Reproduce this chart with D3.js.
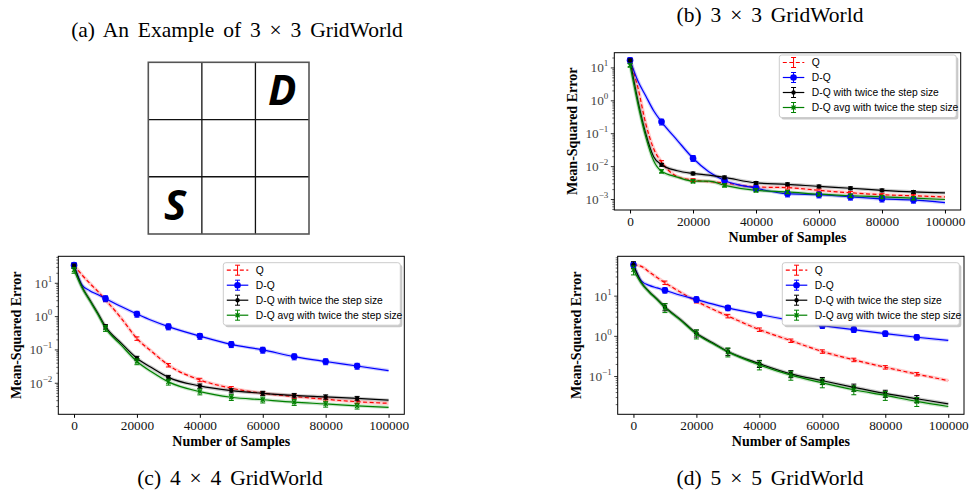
<!DOCTYPE html>
<meta charset="utf-8">
<head>
<script src="https://cdn.jsdelivr.net/npm/d3@7"></script>
<style>
body { margin: 0; background: #fff; }
svg text { font-family: "Liberation Serif", "Times New Roman", serif; }
.legend text { font-family: "Liberation Sans", Arial, sans-serif; font-size: 10.3px; }
.title { font-size: 21.5px; word-spacing: 3.5px; }
.axlabel { font-size: 14px; font-weight: bold; }
.tick { font-size: 13.3px; }
</style>
</head>
<body>
<svg id="fig" width="969" height="491"></svg>
<script>

// sample positions shared by every curve
var samples = [0, 2500, 5000, 7500, 10000, 15000, 20000, 25000, 30000, 40000, 50000, 60000, 70000, 80000, 90000, 100000];
var seriesNames = ["Q", "D-Q", "D-Q with twice the step size", "D-Q avg with twice the step size"];
var xTicks = [0, 20000, 40000, 60000, 80000, 100000];

// (b) 3 x 3 GridWorld
var q3   = [17, 2.5, 0.2, 0.035, 0.0138, 0.005, 0.0039, 0.0035, 0.0032, 0.0024, 0.0023, 0.0019, 0.0016, 0.0014, 0.0013, 0.0012];
var dq3  = [17, 4.0, 1.4, 0.5, 0.23, 0.063, 0.018, 0.007, 0.0038, 0.0022, 0.0015, 0.0014, 0.0012, 0.00105, 0.00097, 0.0008];
var dq2x3  = [17, 1.0, 0.1, 0.02, 0.0114, 0.0075, 0.0062, 0.0055, 0.0047, 0.0032, 0.0029, 0.0025, 0.0022, 0.0019, 0.0017, 0.0016];
var avg3 = [12, 0.8, 0.08, 0.015, 0.0072, 0.0048, 0.0036, 0.0036, 0.0027, 0.0019, 0.0017, 0.00145, 0.0013, 0.0012, 0.0011, 0.001];
var err3 = [0.1, 0.2, 0.1, 0.12];

// (c) 4 x 4 GridWorld
var q4   = [35, 18, 10, 5.8, 3.2, 0.9, 0.22, 0.085, 0.035, 0.0126, 0.0071, 0.005, 0.004, 0.0033, 0.0028, 0.0025];
var dq4  = [35, 9, 6.0, 4.6, 3.5, 2.0, 1.2, 0.75, 0.5, 0.26, 0.147, 0.1, 0.063, 0.045, 0.033, 0.024];
var dq2x4  = [33, 8, 3.2, 1.3, 0.5, 0.16, 0.056, 0.028, 0.015, 0.0083, 0.006, 0.005, 0.0043, 0.0039, 0.0035, 0.0031];
var avg4 = [25, 7.5, 3.0, 1.2, 0.45, 0.14, 0.045, 0.021, 0.011, 0.0056, 0.0038, 0.0032, 0.0027, 0.0024, 0.0021, 0.0019];
var err4 = [0.12, 0.2, 0.15, 0.2];

// (d) 5 x 5 GridWorld
var q5   = [60, 55, 40, 29, 21.6, 12.5, 7.5, 4.8, 3.2, 1.47, 0.78, 0.42, 0.26, 0.17, 0.115, 0.079];
var dq5  = [60, 24, 18.5, 16, 14, 10.5, 8.3, 6.4, 5.1, 3.5, 2.5, 1.85, 1.47, 1.17, 0.95, 0.79];
var dq2x5  = [60, 22, 13, 8.5, 5.4, 2.6, 1.2, 0.7, 0.42, 0.21, 0.117, 0.079, 0.054, 0.038, 0.028, 0.021];
var avg5 = [45, 21, 12.5, 8.2, 5.2, 2.5, 1.15, 0.67, 0.41, 0.195, 0.108, 0.07, 0.047, 0.034, 0.024, 0.018];
var err5 = [0.1, 0.15, 0.2, 0.25];

// grid example (a)
var gridSize = 3;
var gridLabels = [{row: 0, col: 2, label: "D"}, {row: 2, col: 0, label: "S"}];

var colors = ["#ff0000", "#0000ff", "#000000", "#008000"];

var svg = d3.select("#fig");

// ---- titles
svg.append("text").attr("class", "title").attr("x", 237).attr("y", 37).attr("text-anchor", "middle").text("(a) An Example of 3 \u00d7 3 GridWorld");
svg.append("text").attr("class", "title").attr("x", 770).attr("y", 22).attr("text-anchor", "middle").text("(b) 3 \u00d7 3 GridWorld");
svg.append("text").attr("class", "title").attr("x", 230).attr("y", 485).attr("text-anchor", "middle").text("(c) 4 \u00d7 4 GridWorld");
svg.append("text").attr("class", "title").attr("x", 770).attr("y", 485).attr("text-anchor", "middle").text("(d) 5 \u00d7 5 GridWorld");

// ---- grid world picture
var gx = d3.scaleLinear().domain([0, gridSize]).range([148.3, 309]);
var gy = d3.scaleLinear().domain([0, gridSize]).range([62.3, 234]);
var grid = svg.append("g");
d3.range(1, gridSize).forEach(function(i) {
  grid.append("line").attr("x1", gx(i)).attr("x2", gx(i)).attr("y1", gy(0)).attr("y2", gy(gridSize)).attr("stroke", "#111").attr("stroke-width", 1.3);
  grid.append("line").attr("y1", gy(i)).attr("y2", gy(i)).attr("x1", gx(0)).attr("x2", gx(gridSize)).attr("stroke", "#111").attr("stroke-width", 1.3);
});
grid.append("rect").attr("x", gx(0)).attr("y", gy(0)).attr("width", gx(gridSize) - gx(0)).attr("height", gy(gridSize) - gy(0))
  .attr("fill", "none").attr("stroke", "#555").attr("stroke-width", 1.6);
grid.selectAll(".lab").data(gridLabels).enter().append("text")
  .attr("x", function(d) { return gx(d.col + 0.5); })
  .attr("y", function(d) { return gy(d.row + 0.5) + 14.5; })
  .attr("text-anchor", "middle")
  .style("font-family", "'Open Sans', sans-serif").style("font-weight", "bold").style("font-style", "italic")
  .style("font-size", "42px")
  .text(function(d) { return d.label; });

// ---- the three line charts
var panels = [
  {frame: [614.3, 52.7, 960.7, 210], yDomain: [4.8e-4, 29], yTicks: [1e1, 1e0, 1e-1, 1e-2, 1e-3],
   data: [q3, dq3, dq2x3, avg3], err: err3, legend: [779.3, 55]},
  {frame: [58.3, 256.3, 404.3, 414.3], yDomain: [1.17e-3, 64.6], yTicks: [1e1, 1e0, 1e-1, 1e-2],
   data: [q4, dq4, dq2x4, avg4], err: err4, legend: [223.3, 262.7]},
  {frame: [617.7, 256.3, 964, 414.3], yDomain: [0.0115, 98], yTicks: [1e1, 1e0, 1e-1],
   data: [q5, dq5, dq2x5, avg5], err: err5, legend: [782.3, 262.7]}
];

panels.forEach(function(p, pi) { drawPanel(p, pi); });

function drawPanel(p, pi) {
  var x0 = p.frame[0], y0 = p.frame[1], x1 = p.frame[2], y1 = p.frame[3];
  var x = d3.scaleLinear().domain([-5000, 105000]).range([x0, x1]);
  var y = d3.scaleLog().domain(p.yDomain).range([y1, y0]);
  var g = svg.append("g");

  g.append("clipPath").attr("id", "clip" + pi).append("rect")
    .attr("x", x0).attr("y", y0).attr("width", x1 - x0).attr("height", y1 - y0);

  // x axis
  var xa = g.append("g").attr("transform", "translate(0," + y1 + ")")
    .call(d3.axisBottom(x).tickValues(xTicks).tickSize(3.5).tickFormat(d3.format("d")));
  xa.select(".domain").remove();
  xa.selectAll("text").attr("class", "tick").attr("y", 6.5).style("font-family", "'Liberation Serif', serif").attr("fill", "#111");

  // y axis, major and minor ticks
  var lo = Math.floor(Math.log10(p.yDomain[0])), hi = Math.ceil(Math.log10(p.yDomain[1]));
  var minors = [];
  for (var k = lo; k <= hi; k++) {
    for (var m = 2; m <= 9; m++) {
      var v = m * Math.pow(10, k);
      if (v >= p.yDomain[0] && v <= p.yDomain[1]) minors.push(v);
    }
  }
  g.selectAll(".minor").data(minors).enter().append("line")
    .attr("x1", x0 - 2).attr("x2", x0).attr("y1", function(d) { return y(d); }).attr("y2", function(d) { return y(d); })
    .attr("stroke", "#000").attr("stroke-width", 0.6);
  g.selectAll(".major").data(p.yTicks).enter().append("line")
    .attr("x1", x0 - 3.5).attr("x2", x0).attr("y1", function(d) { return y(d); }).attr("y2", function(d) { return y(d); })
    .attr("stroke", "#000").attr("stroke-width", 0.8);
  p.yTicks.forEach(function(v) {
    var e = Math.round(Math.log10(v));
    var t = g.append("text").attr("class", "tick").attr("x", x0 - 6).attr("y", y(v) + 4.5)
      .attr("text-anchor", "end").attr("fill", "#444");
    t.append("tspan").text("10");
    t.append("tspan").attr("dy", -6).style("font-size", "9px").text(String(e).replace("-", "\u2212"));
  });

  // axis labels
  g.append("text").attr("class", "axlabel").attr("x", (x0 + x1) / 2).attr("y", y1 + 32)
    .attr("text-anchor", "middle").text("Number of Samples");
  g.append("text").attr("class", "axlabel")
    .attr("transform", "translate(" + (x0 - 37) + "," + ((y0 + y1) / 2) + ") rotate(-90)")
    .attr("text-anchor", "middle").text("Mean-Squared Error");

  // curves
  var plot = g.append("g").attr("clip-path", "url(#clip" + pi + ")");
  var line = d3.line().curve(d3.curveMonotoneX)
    .x(function(d) { return x(d[0]); }).y(function(d) { return y(d[1]); });

  p.data.forEach(function(vals, si) {
    var pts = samples.map(function(s, i) { return [s, vals[i]]; });
    plot.append("path").datum(pts).attr("d", line).attr("fill", "none")
      .attr("stroke", colors[si]).attr("stroke-opacity", 0.2).attr("stroke-width", 3.5);
    plot.append("path").datum(pts).attr("d", line).attr("fill", "none")
      .attr("stroke", colors[si]).attr("stroke-width", 1.2)
      .attr("stroke-dasharray", si === 0 ? "4,2.5" : null);
  });

  p.data.forEach(function(vals, si) {
    var pts = samples.map(function(s, i) { return [s, vals[i]]; })
      .filter(function(d) { return d[0] % 10000 === 0 && d[0] < 100000; });
    var eb = plot.append("g");
    pts.forEach(function(d) {
      var cx = x(d[0]);
      var ya = y(d[1] * (1 + p.err[si])), yb = y(d[1] * (1 - p.err[si]));
      eb.append("line").attr("x1", cx).attr("x2", cx).attr("y1", ya).attr("y2", yb).attr("stroke", colors[si]).attr("stroke-width", 1);
      eb.append("line").attr("x1", cx - 2.5).attr("x2", cx + 2.5).attr("y1", ya).attr("y2", ya).attr("stroke", colors[si]).attr("stroke-width", 1);
      eb.append("line").attr("x1", cx - 2.5).attr("x2", cx + 2.5).attr("y1", yb).attr("y2", yb).attr("stroke", colors[si]).attr("stroke-width", 1);
      drawMarker(eb, si, cx, y(d[1]));
    });
  });

  // frame
  g.append("rect").attr("x", x0).attr("y", y0).attr("width", x1 - x0).attr("height", y1 - y0)
    .attr("fill", "none").attr("stroke", "#000").attr("stroke-width", 1);

  drawLegend(g, p.legend[0], p.legend[1]);
}

function drawMarker(sel, si, cx, cy) {
  if (si === 1) {
    sel.append("circle").attr("cx", cx).attr("cy", cy).attr("r", 3.3).attr("fill", colors[si]);
  } else if (si === 2) {
    sel.append("circle").attr("cx", cx).attr("cy", cy).attr("r", 2.2).attr("fill", colors[si]);
  } else if (si === 3) {
    sel.append("path").attr("d", "M" + (cx - 2) + "," + (cy - 2) + "L" + (cx + 2) + "," + (cy + 2) + "M" + (cx - 2) + "," + (cy + 2) + "L" + (cx + 2) + "," + (cy - 2))
      .attr("stroke", colors[si]).attr("stroke-width", 1.3);
  }
}

function drawLegend(g, lx, ly) {
  var lg = g.append("g").attr("class", "legend");
  lg.append("rect").attr("x", lx + 2).attr("y", ly + 2).attr("width", 177).attr("height", 62.5).attr("rx", 2.5)
    .attr("fill", "#888").attr("fill-opacity", 0.45);
  lg.append("rect").attr("x", lx).attr("y", ly).attr("width", 177).attr("height", 62.5).attr("rx", 2.5)
    .attr("fill", "#fff").attr("stroke", "#ccc").attr("stroke-width", 1);
  seriesNames.forEach(function(name, si) {
    var cy = ly + 7.5 + 15 * si;
    var hx0 = lx + 3.5, hx1 = lx + 25, hm = (hx0 + hx1) / 2;
    lg.append("line").attr("x1", hx0).attr("x2", hx1).attr("y1", cy).attr("y2", cy)
      .attr("stroke", colors[si]).attr("stroke-width", 1.2).attr("stroke-dasharray", si === 0 ? "4,2.5" : null);
    lg.append("line").attr("x1", hm).attr("x2", hm).attr("y1", cy - 5).attr("y2", cy + 5).attr("stroke", colors[si]);
    lg.append("line").attr("x1", hm - 2.5).attr("x2", hm + 2.5).attr("y1", cy - 5).attr("y2", cy - 5).attr("stroke", colors[si]);
    lg.append("line").attr("x1", hm - 2.5).attr("x2", hm + 2.5).attr("y1", cy + 5).attr("y2", cy + 5).attr("stroke", colors[si]);
    drawMarker(lg, si, hm, cy);
    lg.append("text").attr("x", lx + 32.5).attr("y", cy + 3.6).text(name);
  });
}

</script>
</body>
